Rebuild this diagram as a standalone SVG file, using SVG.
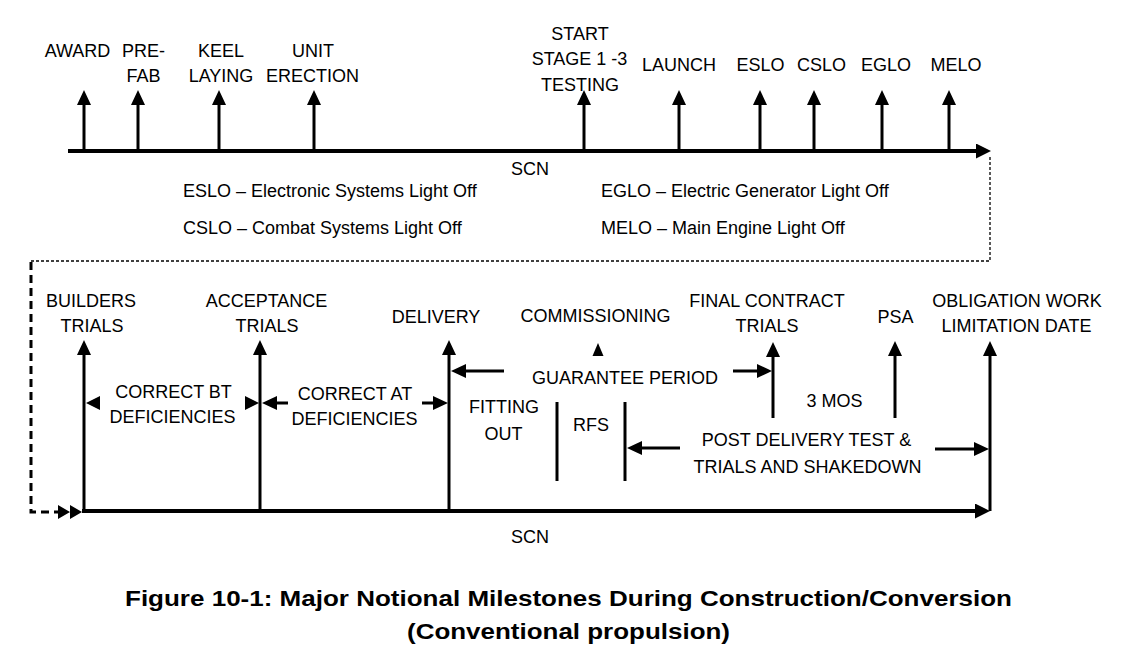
<svg xmlns="http://www.w3.org/2000/svg" width="1130" height="661" viewBox="0 0 1130 661">
<style>
text{font-family:"Liberation Sans",Arial,sans-serif;font-size:18px;fill:#000;text-anchor:middle}
.leg{text-anchor:start}
.title{font-weight:bold;font-size:22px}
.sh{stroke:#000;stroke-width:3;fill:none}
.main{stroke:#000;stroke-width:4;fill:none}
.dot{stroke:#000;stroke-width:1.3;stroke-dasharray:3 2;fill:none}
.dash{stroke:#000;stroke-width:3;stroke-dasharray:8 5;fill:none}
</style>
<defs>
<marker id="ah" markerUnits="userSpaceOnUse" markerWidth="15" markerHeight="14" refX="10" refY="7" orient="auto">
<path d="M0,0 L15,7 L0,14 z" fill="#000"/>
</marker>
<marker id="ahm" markerUnits="userSpaceOnUse" markerWidth="15" markerHeight="15" refX="9" refY="7.5" orient="auto">
<path d="M0,0 L15,7.5 L0,15 z" fill="#000"/>
</marker>
</defs>
<rect width="1130" height="661" fill="#fff"/>

<g id="connectors">
<line class="main" x1="68" y1="151" x2="985" y2="151" marker-end="url(#ahm)"/>
<line class="main" x1="82" y1="511" x2="984" y2="511" marker-end="url(#ahm)"/>
<polyline class="dot" points="990,157 990,261 31,261"/>
<polyline class="dash" points="31,262 31,512 58,512"/>
<path d="M58,505 L70,512 L58,519 z M70,505 L82,512 L70,519 z" fill="#000"/>
<path d="M86,403 L100,396 L100,410 z" fill="#000"/>
<path d="M259,403 L245,396 L245,410 z" fill="#000"/>
<line class="sh" x1="288" y1="403" x2="267" y2="403" marker-end="url(#ah)"/>
<line class="sh" x1="422" y1="403" x2="443" y2="403" marker-end="url(#ah)"/>
<line class="sh" x1="504" y1="371" x2="456" y2="371" marker-end="url(#ah)"/>
<line class="sh" x1="733" y1="371" x2="767" y2="371" marker-end="url(#ah)"/>
<line class="sh" x1="680" y1="448" x2="632" y2="448" marker-end="url(#ah)"/>
<line class="sh" x1="935" y1="449" x2="984" y2="449" marker-end="url(#ah)"/>
<line class="sh" x1="557" y1="402" x2="557" y2="481"/>
<line class="sh" x1="625" y1="402" x2="625" y2="481"/>
</g>

<g id="award"><line class="sh" x1="84" y1="151" x2="84" y2="95" marker-end="url(#ah)"/><text x="77.5" y="57">AWARD</text></g>
<g id="prefab"><line class="sh" x1="138" y1="151" x2="138" y2="95" marker-end="url(#ah)"/><text x="143.5" y="57">PRE-</text><text x="143.5" y="82">FAB</text></g>
<g id="keel"><line class="sh" x1="219" y1="151" x2="219" y2="95" marker-end="url(#ah)"/><text x="221" y="57">KEEL</text><text x="221" y="82">LAYING</text></g>
<g id="unit"><line class="sh" x1="314" y1="151" x2="314" y2="95" marker-end="url(#ah)"/><text x="313" y="57">UNIT</text><text x="312.5" y="82">ERECTION</text></g>
<g id="start"><line class="sh" x1="584" y1="151" x2="584" y2="95" marker-end="url(#ah)"/><text x="580" y="40">START</text><text x="579.5" y="65">STAGE 1 -3</text><text x="580" y="91">TESTING</text></g>
<g id="launch"><line class="sh" x1="679" y1="151" x2="679" y2="95" marker-end="url(#ah)"/><text x="679" y="71">LAUNCH</text></g>
<g id="eslo"><line class="sh" x1="760" y1="151" x2="760" y2="95" marker-end="url(#ah)"/><text x="760.5" y="71">ESLO</text></g>
<g id="cslo"><line class="sh" x1="814" y1="151" x2="814" y2="95" marker-end="url(#ah)"/><text x="821.5" y="71">CSLO</text></g>
<g id="eglo"><line class="sh" x1="882" y1="151" x2="882" y2="95" marker-end="url(#ah)"/><text x="886" y="71">EGLO</text></g>
<g id="melo"><line class="sh" x1="949" y1="151" x2="949" y2="95" marker-end="url(#ah)"/><text x="956" y="71">MELO</text></g>

<g id="scn-top"><text x="530" y="175">SCN</text></g>
<g id="legend">
<text class="leg" x="183" y="197">ESLO – Electronic Systems Light Off</text>
<text class="leg" x="183" y="234">CSLO – Combat Systems Light Off</text>
<text class="leg" x="601" y="197">EGLO – Electric Generator Light Off</text>
<text class="leg" x="601" y="234">MELO – Main Engine Light Off</text>
</g>

<g id="builders"><line class="sh" x1="84" y1="511" x2="84" y2="345" marker-end="url(#ah)"/><text x="91" y="307">BUILDERS</text><text x="92" y="332">TRIALS</text></g>
<g id="acceptance"><line class="sh" x1="260" y1="511" x2="260" y2="345" marker-end="url(#ah)"/><text x="266.5" y="307">ACCEPTANCE</text><text x="267" y="332">TRIALS</text></g>
<g id="delivery"><line class="sh" x1="449" y1="511" x2="449" y2="345" marker-end="url(#ah)"/><text x="436" y="323">DELIVERY</text></g>
<g id="commissioning"><path d="M598,343 L592.5,356 L603.5,356 z" fill="#000"/><text x="595.5" y="322">COMMISSIONING</text></g>
<g id="final-contract"><line class="sh" x1="773" y1="418" x2="773" y2="347" marker-end="url(#ah)"/><text x="767" y="307">FINAL CONTRACT</text><text x="767" y="332">TRIALS</text></g>
<g id="psa"><line class="sh" x1="895" y1="418" x2="895" y2="346" marker-end="url(#ah)"/><text x="895.5" y="323">PSA</text></g>
<g id="owld"><line class="sh" x1="990" y1="511" x2="990" y2="346" marker-end="url(#ah)"/><text x="1017" y="307">OBLIGATION WORK</text><text x="1016.5" y="332">LIMITATION DATE</text></g>

<g id="correct-bt"><text x="173.5" y="398">CORRECT BT</text><text x="172.5" y="423">DEFICIENCIES</text></g>
<g id="correct-at"><text x="355" y="400">CORRECT AT</text><text x="354.5" y="425">DEFICIENCIES</text></g>
<g id="guarantee"><text x="625" y="384">GUARANTEE PERIOD</text></g>
<g id="fitting-out"><text x="504" y="413">FITTING</text><text x="503.5" y="440">OUT</text></g>
<g id="rfs"><text x="591" y="431">RFS</text></g>
<g id="three-mos"><text x="834.5" y="407">3 MOS</text></g>
<g id="post-delivery"><text x="806.5" y="446">POST DELIVERY TEST &amp;</text><text x="807.5" y="473">TRIALS AND SHAKEDOWN</text></g>
<g id="scn-bottom"><text x="530" y="543">SCN</text></g>

<g id="caption">
<text class="title" x="568.5" y="606" textLength="887" lengthAdjust="spacingAndGlyphs">Figure 10-1: Major Notional Milestones During Construction/Conversion</text>
<text class="title" x="568.5" y="639" textLength="323" lengthAdjust="spacingAndGlyphs">(Conventional propulsion)</text>
</g>
</svg>
